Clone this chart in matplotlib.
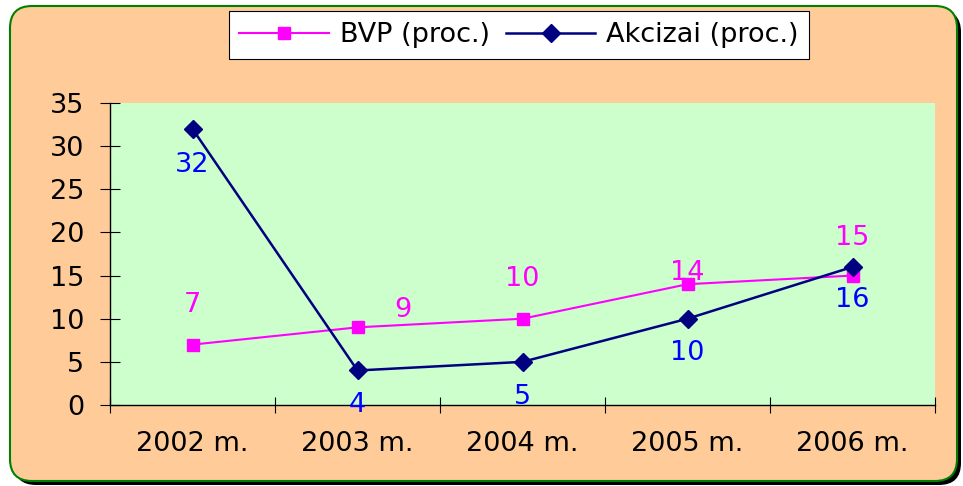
import matplotlib.pyplot as plt
from matplotlib.patches import FancyBboxPatch

plt.rcParams['font.family'] = ['DejaVu Sans']

metai = ['2002 m.', '2003 m.', '2004 m.', '2005 m.', '2006 m.']
bvp = [7, 9, 10, 14, 15]
akcizai = [32, 4, 5, 10, 16]

# label offsets in pixels, same order as the data
bvp_off = [(0, 40), (45, 17), (0, 40), (0, 11), (0, 38)]
akc_off = [(0, -36), (0, -35), (0, -35), (0, -34), (0, -33)]

fs = 19.5

fig = plt.figure(figsize=(9.63, 4.86), dpi=100)
fig.patch.set_facecolor('white')

# rounded orange panel behind everything, drawn in pixel units
bg = fig.add_axes([0, 0, 1, 1], zorder=0)
bg.set_xlim(0, 963)
bg.set_ylim(486, 0)
bg.axis('off')
bg.add_patch(FancyBboxPatch((14, 10), 947, 475, boxstyle='round,pad=0,rounding_size=22',
                            fc='black', ec='black', lw=0))
bg.add_patch(FancyBboxPatch((10, 6), 947, 475, boxstyle='round,pad=0,rounding_size=22',
                            fc='#FFCC99', ec='#008000', lw=1.5))

ax = fig.add_axes([110 / 963, 81 / 486, 825 / 963, 302 / 486], zorder=1)
ax.set_facecolor('#CCFFCC')

x = list(range(len(metai)))
ax.plot(x, bvp, color='#FF00FF', lw=1.5, marker='s', ms=9, label='BVP (proc.)')
ax.plot(x, akcizai, color='#000080', lw=1.8, marker='D', ms=9, label='Akcizai (proc.)')

for i in x:
    ax.annotate(str(bvp[i]), (i, bvp[i]), xytext=bvp_off[i], textcoords='offset pixels',
                ha='center', va='center', color='#FF00FF', fontsize=fs)
    ax.annotate(str(akcizai[i]), (i, akcizai[i]), xytext=akc_off[i], textcoords='offset pixels',
                ha='center', va='center', color='#0000FF', fontsize=fs)

ax.set_xlim(-0.5, len(metai) - 0.5)
ax.set_ylim(0, 35)
ax.set_yticks(range(0, 36, 5))
ax.set_xticks(x)
ax.set_xticklabels(metai)
ax.set_xticks([i - 0.5 for i in range(len(metai) + 1)], minor=True)
ax.tick_params(axis='x', which='major', length=0, pad=19, labelsize=fs)
ax.tick_params(axis='x', which='minor', direction='inout', length=11, width=0.8)
ax.tick_params(axis='y', direction='inout', length=15, width=0.8, pad=11, labelsize=fs)

for s in ['top', 'right']:
    ax.spines[s].set_visible(False)
ax.spines['left'].set_linewidth(1)
ax.spines['bottom'].set_linewidth(1)

leg = fig.legend(loc='center', bbox_to_anchor=(519 / 963, 1 - 35 / 486), ncol=2,
                 fontsize=fs, frameon=True, fancybox=False, edgecolor='black',
                 framealpha=1, handlelength=3.3, handletextpad=0.4, columnspacing=0.6,
                 borderpad=0.4, borderaxespad=0)
leg.get_frame().set_linewidth(0.8)

fig.savefig('out.png', dpi=100)
